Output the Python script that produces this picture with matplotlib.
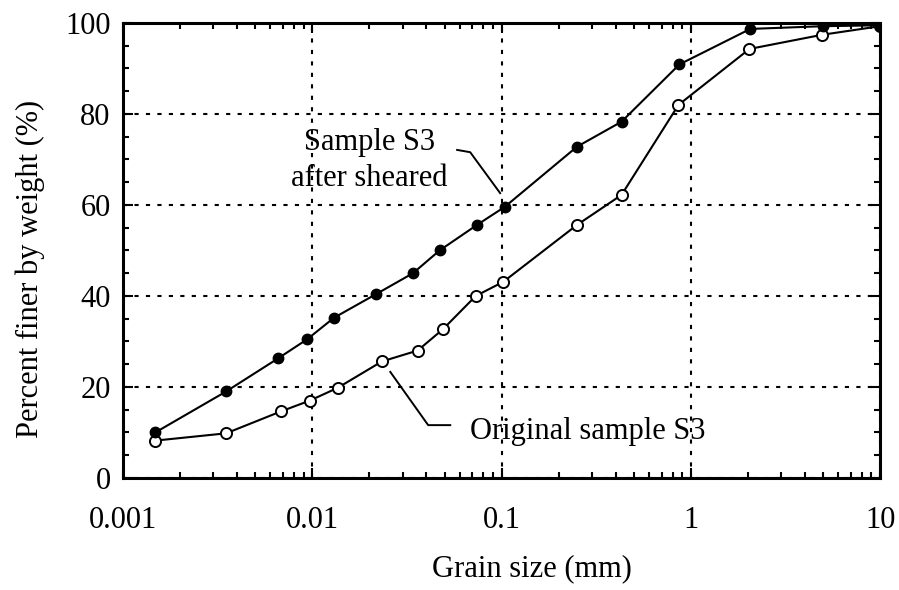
import matplotlib
matplotlib.use("Agg")
import matplotlib.pyplot as plt
from matplotlib.ticker import FixedLocator, MultipleLocator, LogLocator, NullFormatter

plt.rcParams['font.family'] = ['Liberation Serif', 'DejaVu Serif']

# grain size (mm) and percent finer, sample S3 after shearing (filled)
sheared_x = [0.00148, 0.0035, 0.0066, 0.0094, 0.0130, 0.0217, 0.034, 0.047,
             0.074, 0.104, 0.25, 0.43, 0.87, 2.06, 4.98, 10.0]
sheared_y = [10.0, 19.0, 26.3, 30.5, 35.2, 40.4, 45.0, 50.0,
             55.6, 59.6, 72.8, 78.3, 90.9, 98.7, 99.3, 99.5]

# original sample S3 (open)
orig_x = [0.00148, 0.0035, 0.0068, 0.0097, 0.0136, 0.0233, 0.036, 0.049,
          0.073, 0.102, 0.25, 0.43, 0.86, 2.04, 4.92, 10.0]
orig_y = [8.2, 9.8, 14.6, 17.0, 19.8, 25.6, 28.0, 32.7,
          40.0, 43.1, 55.6, 62.2, 82.0, 94.3, 97.4, 99.3]

x_ticks = [0.001, 0.01, 0.1, 1, 10]
x_labels = ["0.001", "0.01", "0.1", "1", "10"]
y_ticks = [0, 20, 40, 60, 80, 100]

fs = 22

fig = plt.figure(figsize=(8.99, 5.90), dpi=100)
ax = fig.add_axes([0.137, 0.190, 0.842, 0.771])

ax.plot(orig_x, orig_y, color="black", lw=1.5, marker="o", ms=8,
        mfc="white", mec="black", mew=1.4, zorder=3)
ax.plot(sheared_x, sheared_y, color="black", lw=1.5, marker="o", ms=7.5,
        mfc="black", mec="black", zorder=4)

ax.set_xscale("log")
ax.set_xlim(0.001, 10)
ax.set_ylim(0, 100)
ax.set_xticks(x_ticks)
ax.set_xticklabels(x_labels)
ax.xaxis.set_minor_locator(LogLocator(base=10, subs=range(2, 10)))
ax.xaxis.set_minor_formatter(NullFormatter())
ax.yaxis.set_major_locator(FixedLocator(y_ticks))
ax.yaxis.set_minor_locator(MultipleLocator(5))

ax.grid(True, which="major", color="black", linestyle=(0, (2, 3.5)), lw=1.5)
for s in ax.spines.values():
    s.set_linewidth(2.2)

ax.tick_params(which="both", direction="in", top=True, right=True, width=1.5)
ax.tick_params(which="major", length=7)
ax.tick_params(which="minor", length=4)
ax.tick_params(axis="x", which="major", labelsize=fs, pad=20)
ax.tick_params(axis="y", which="major", labelsize=fs, pad=9)

ax.set_xlabel("Grain size (mm)", fontsize=fs)
ax.xaxis.set_label_coords(0.54, -0.168)
ax.set_ylabel("Percent finer by weight (%)", fontsize=fs)
ax.yaxis.set_label_coords(-0.103, 0.46)

# callouts
ax.plot([0.0582, 0.0682, 0.0982], [72.1, 71.6, 62.6], color="black", lw=1.4)
ax.text(0.0200, 69.8, "Sample S3\nafter sheared", fontsize=fs,
        ha="center", va="center", linespacing=1.33)

ax.plot([0.0258, 0.0409, 0.0535], [23.3, 11.6, 11.6], color="black", lw=1.4)
ax.text(0.0683, 10.1, "Original sample S3", fontsize=fs, ha="left", va="center")

fig.savefig("out.png", dpi=100)
